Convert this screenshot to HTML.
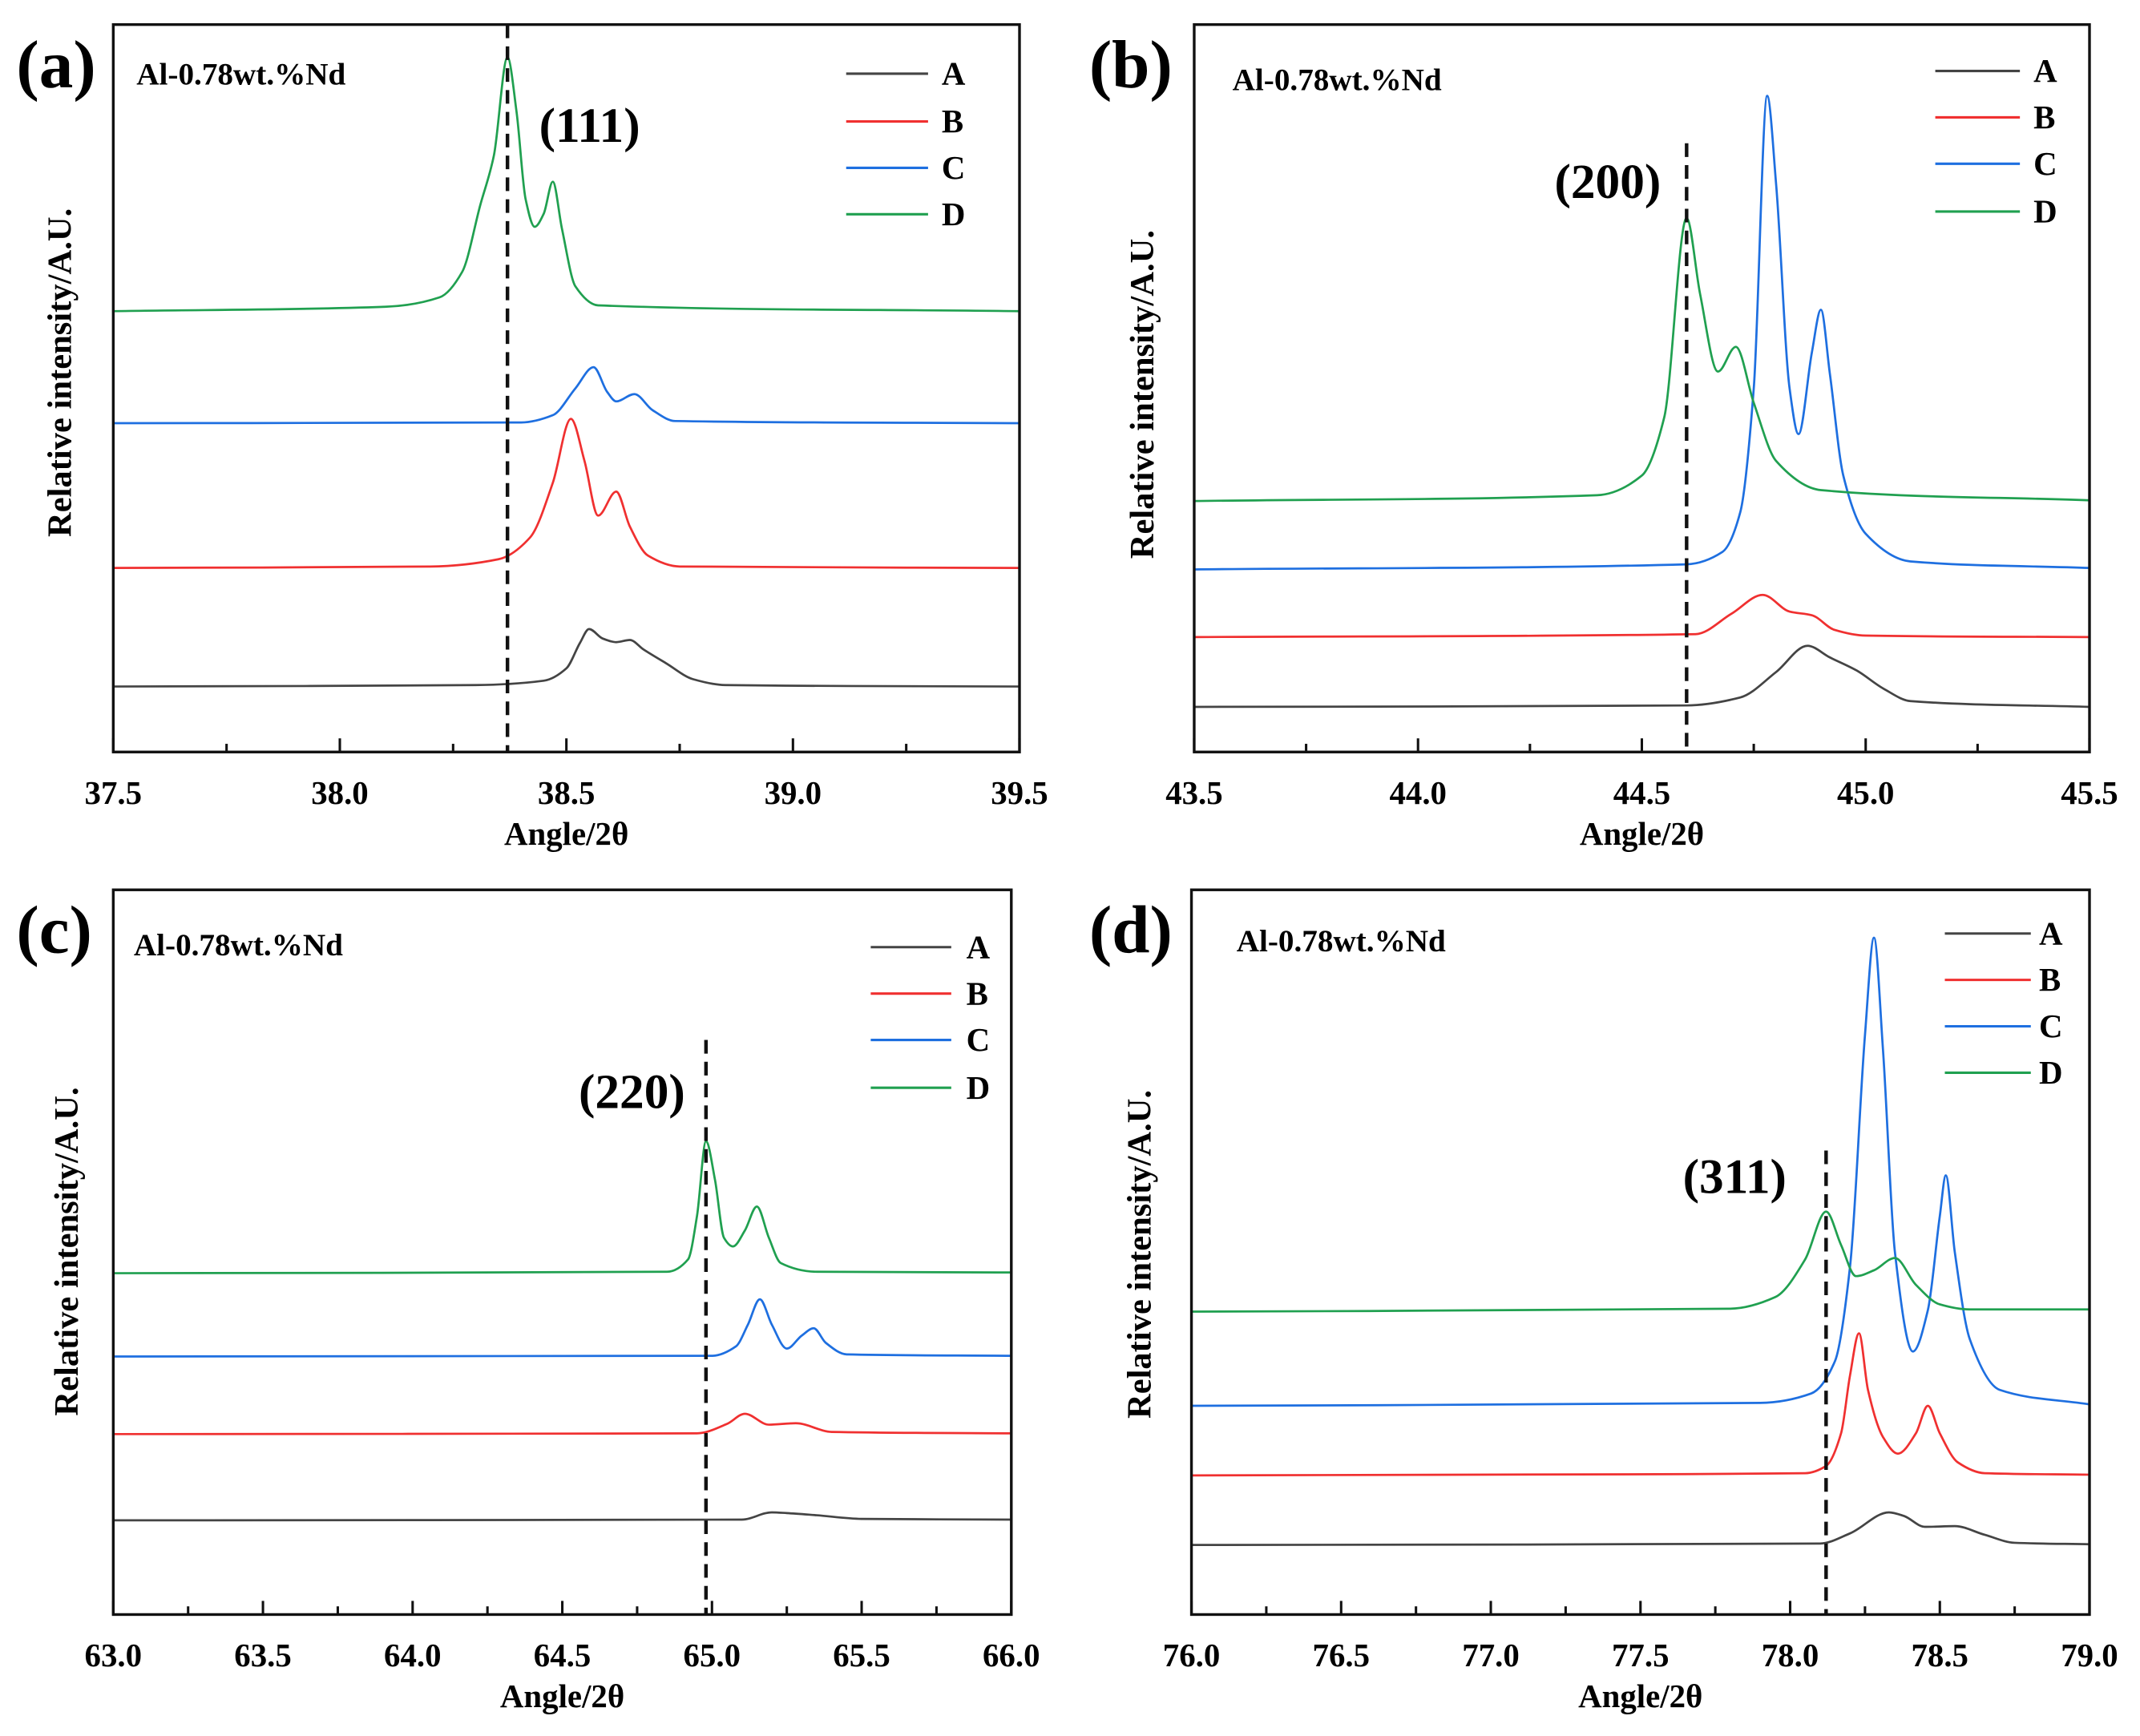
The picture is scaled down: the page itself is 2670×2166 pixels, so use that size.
<!DOCTYPE html>
<html><head><meta charset="utf-8"><style>
html,body{margin:0;padding:0;background:#fff;}
svg{display:block;}
text{font-family:"Liberation Serif",serif;font-weight:bold;fill:#000;}
</style></head><body>
<svg id="fig" width="2670" height="2166" viewBox="0 0 1568 1272" preserveAspectRatio="none" xmlns="http://www.w3.org/2000/svg"></svg>
<script>
// ---- data (angle 2θ, relative intensity 0..100 of panel height) ----
const panelIds = ['a','b','c','d'];
const peakLabels = ['(111)','(200)','(220)','(311)'];
const xMins = [37.5, 43.5, 63.0, 76.0];
const xMaxs = [39.5, 45.5, 66.0, 79.0];
const xTickStep = [0.5, 0.5, 0.5, 0.5];
const refLines = [38.37, 44.60, 64.98, 78.12];
const seriesNames = ['A','B','C','D'];
const seriesColors = ['#444444','#f03030','#1e6fe0','#20a050'];

const a_A = [[37.5,9.0],[38.3,9.2],[38.45,9.8],[38.5,11.5],[38.53,15],[38.55,16.9],[38.58,15.6],[38.61,15.1],[38.64,15.4],[38.67,14.1],[38.72,12.2],[38.78,10.0],[38.85,9.2],[39.5,9.0]];
const a_B = [[37.5,25.3],[38.2,25.5],[38.35,26.5],[38.42,29.5],[38.47,37],[38.51,45.8],[38.54,40],[38.57,32.5],[38.61,35.8],[38.64,31],[38.68,27],[38.75,25.5],[39.5,25.3]];
const a_C = [[37.5,45.2],[38.4,45.3],[38.47,46.3],[38.52,50],[38.56,52.9],[38.59,49.5],[38.61,48.2],[38.65,49.2],[38.69,47],[38.74,45.5],[39.5,45.2]];
const a_D = [[37.5,60.6],[38.1,61.2],[38.22,62.5],[38.27,66],[38.31,75.2],[38.34,82],[38.37,95.5],[38.39,88],[38.41,76],[38.43,72.2],[38.45,74],[38.47,78.4],[38.49,72],[38.52,64],[38.57,61.4],[39.5,60.6]];

const b_A = [[43.5,6.2],[44.6,6.4],[44.72,7.5],[44.8,11],[44.87,14.6],[44.92,13],[44.98,11.2],[45.04,8.7],[45.1,7],[45.5,6.2]];
const b_B = [[43.5,15.8],[44.62,16.2],[44.7,19],[44.77,21.6],[44.83,19.3],[44.88,18.8],[44.93,16.8],[45.0,16],[45.5,15.8]];
const b_C = [[43.5,25.1],[44.6,25.8],[44.68,27.5],[44.72,33],[44.75,50],[44.78,90.2],[44.8,78],[44.83,50],[44.85,43.7],[44.88,55],[44.9,60.8],[44.92,52],[44.95,38],[45.0,30],[45.1,26.2],[45.5,25.3]];
const b_D = [[43.5,34.5],[44.4,35.3],[44.5,38],[44.55,46],[44.6,73.4],[44.63,63],[44.67,52.3],[44.71,55.7],[44.75,48],[44.8,40],[44.9,36],[45.5,34.6]];

const c_A = [[63,13.0],[65.1,13.1],[65.2,14.1],[65.25,14.0],[65.35,13.7],[65.5,13.2],[66,13.1]];
const c_B = [[63,24.9],[64.95,25.0],[65.05,26.3],[65.11,27.7],[65.19,26.2],[65.28,26.4],[65.4,25.2],[66,25.0]];
const c_C = [[63,35.6],[65.0,35.7],[65.08,37],[65.12,40],[65.16,43.5],[65.2,40],[65.25,36.7],[65.3,38.5],[65.34,39.5],[65.38,37.5],[65.45,35.9],[66,35.7]];
const c_D = [[63,47.1],[64.85,47.3],[64.92,49],[64.95,55],[64.98,65.3],[65.01,60],[65.04,52],[65.07,50.8],[65.11,53],[65.15,56.3],[65.19,52],[65.23,48.5],[65.35,47.3],[66,47.2]];

const d_A = [[76,9.6],[78.1,9.8],[78.2,11.2],[78.33,14.1],[78.38,13.6],[78.45,12.1],[78.55,12.2],[78.65,11],[78.75,9.9],[79,9.7]];
const d_B = [[76,19.2],[78.05,19.5],[78.12,20.5],[78.17,25],[78.2,33],[78.23,38.8],[78.26,31],[78.31,24.5],[78.36,22.2],[78.42,25],[78.46,28.8],[78.5,25],[78.56,21],[78.65,19.5],[79,19.3]];
const d_C = [[76,28.8],[77.9,29.2],[78.07,30.5],[78.15,35],[78.2,48],[78.25,80],[78.28,93.4],[78.31,78],[78.35,50],[78.41,36.3],[78.46,42],[78.5,55],[78.52,60.6],[78.55,50],[78.6,38],[78.7,31],[79,29.0]];
const d_D = [[76,41.8],[77.8,42.2],[77.95,43.8],[78.05,49],[78.12,55.6],[78.17,51],[78.22,46.7],[78.28,47.5],[78.35,49.2],[78.42,45.5],[78.5,42.8],[78.6,42.1],[79,42.1]];

const panelSeries = [[a_A,a_B,a_C,a_D],[b_A,b_B,b_C,b_D],[c_A,c_B,c_C,c_D],[d_A,d_B,d_C,d_D]];

// ---- layout ----
const boxes = [
  {x0:83,x1:747,y0:18,y1:551, lab:[12,64], sample:[100,62], leg:[620,680,690,[54,89,123,157]], pk:[432,92], refTop:18, yt:[52,273]},
  {x0:875,x1:1531,y0:18,y1:551, lab:[798,64], sample:[903,66], leg:[1418,1480,1490,[52,86,120,155]], pk:[1178,133], refTop:105, yt:[845,289]},
  {x0:83,x1:741,y0:652,y1:1183, lab:[12,698], sample:[98,700], leg:[638,697,708,[694,728,762,797]], pk:[463,800], refTop:762, yt:[57,917]},
  {x0:873,x1:1531,y0:652,y1:1183, lab:[798,698], sample:[906,697], leg:[1425,1488,1494,[684,718,752,786]], pk:[1271,862], refTop:843, yt:[843,919]}
];
const NS='http://www.w3.org/2000/svg';
const svg=document.getElementById('fig');
function mk(tag, attrs, parent){const e=document.createElementNS(NS,tag);for(const k in attrs)e.setAttribute(k,attrs[k]);(parent||svg).appendChild(e);return e;}
// monotone cubic (Fritsch-Carlson) path, x strictly increasing
function smoothPath(p){
  const n=p.length, dx=[], s=[], m=new Array(n);
  for(let i=0;i<n-1;i++){dx.push(p[i+1][0]-p[i][0]);s.push((p[i+1][1]-p[i][1])/dx[i]);}
  m[0]=s[0]; m[n-1]=s[n-2];
  for(let i=1;i<n-1;i++){
    if(s[i-1]*s[i]<=0) m[i]=0;
    else{const w1=2*dx[i]+dx[i-1], w2=dx[i]+2*dx[i-1]; m[i]=(w1+w2)/(w1/s[i-1]+w2/s[i]);}
  }
  let d='M'+p[0][0].toFixed(2)+','+p[0][1].toFixed(2);
  for(let i=0;i<n-1;i++){
    const h=dx[i]/3;
    d+=' C'+(p[i][0]+h).toFixed(2)+','+(p[i][1]+m[i]*h).toFixed(2)+' '+(p[i+1][0]-h).toFixed(2)+','+(p[i+1][1]-m[i+1]*h).toFixed(2)+' '+p[i+1][0].toFixed(2)+','+p[i+1][1].toFixed(2);
  }
  return d;
}
panelIds.forEach((pid,pi)=>{
  const b=boxes[pi];
  const g=mk('g',{});
  
  
  const xs=v=>b.x0+(v-xMins[pi])/(xMaxs[pi]-xMins[pi])*(b.x1-b.x0);
  const ys=v=>b.y1-v/100*(b.y1-b.y0);
  panelSeries[pi].forEach((s,si)=>{
    const p=mk('path',{d:smoothPath(s.map(q=>[xs(q[0]),ys(q[1])])),fill:'none',stroke:seriesColors[si],'stroke-width':1.6,'stroke-linejoin':'round'},g);
    
    
  });
  const rl=mk('line',{x1:xs(refLines[pi]),x2:xs(refLines[pi]),y1:b.refTop,y2:b.y1,stroke:'#111','stroke-width':2.6,'stroke-dasharray':'10,6'},g);
  
  
  const fr=mk('rect',{x:b.x0,y:b.y0,width:b.x1-b.x0,height:b.y1-b.y0,fill:'none',stroke:'#111','stroke-width':2},g);
  
  
  const step=xTickStep[pi];
  const n=Math.round((xMaxs[pi]-xMins[pi])/(step/2));
  for(let k=0;k<=n;k++){
    const v=xMins[pi]+k*step/2, X=xs(v), major=k%2===0;
    const t=mk('line',{x1:X,x2:X,y1:b.y1,y2:b.y1-(major?10:6),stroke:'#111','stroke-width':1.8},g);
    
    
    if(major){
      const tl=mk('text',{x:X,y:b.y1+38,'text-anchor':'middle','font-size':24},g);
      tl.textContent=v.toFixed(1);
      
      
    }
  }
  const xt=mk('text',{x:(b.x0+b.x1)/2,y:b.y1+68,'text-anchor':'middle','font-size':24},g);
  xt.textContent='Angle/2θ';
  
  
  const yt=mk('text',{x:b.yt[0],y:b.yt[1],'text-anchor':'middle','font-size':25,transform:'rotate(-90 '+b.yt[0]+' '+b.yt[1]+')'},g);
  yt.textContent='Relative intensity/A.U.';
  
  
  const pl=mk('text',{x:b.lab[0],y:b.lab[1],'font-size':50},g);
  pl.textContent='('+pid+')';
  
  
  const sl=mk('text',{x:b.sample[0],y:b.sample[1],'font-size':23},g);
  sl.textContent='Al-0.78wt.%Nd';
  
  
  const pk=mk('text',{x:b.pk[0],y:b.pk[1]+12,'text-anchor':'middle','font-size':36},g);
  pk.textContent=peakLabels[pi];
  
  
  seriesNames.forEach((nm,si)=>{
    const yy=b.leg[3][si];
    const ll=mk('line',{x1:b.leg[0],x2:b.leg[1],y1:yy,y2:yy,stroke:seriesColors[si],'stroke-width':1.8},g);
    
    
    const lt=mk('text',{x:b.leg[2],y:yy+8,'font-size':24},g);
    lt.textContent=nm;
    
    
  });
});
</script>
</body></html>
